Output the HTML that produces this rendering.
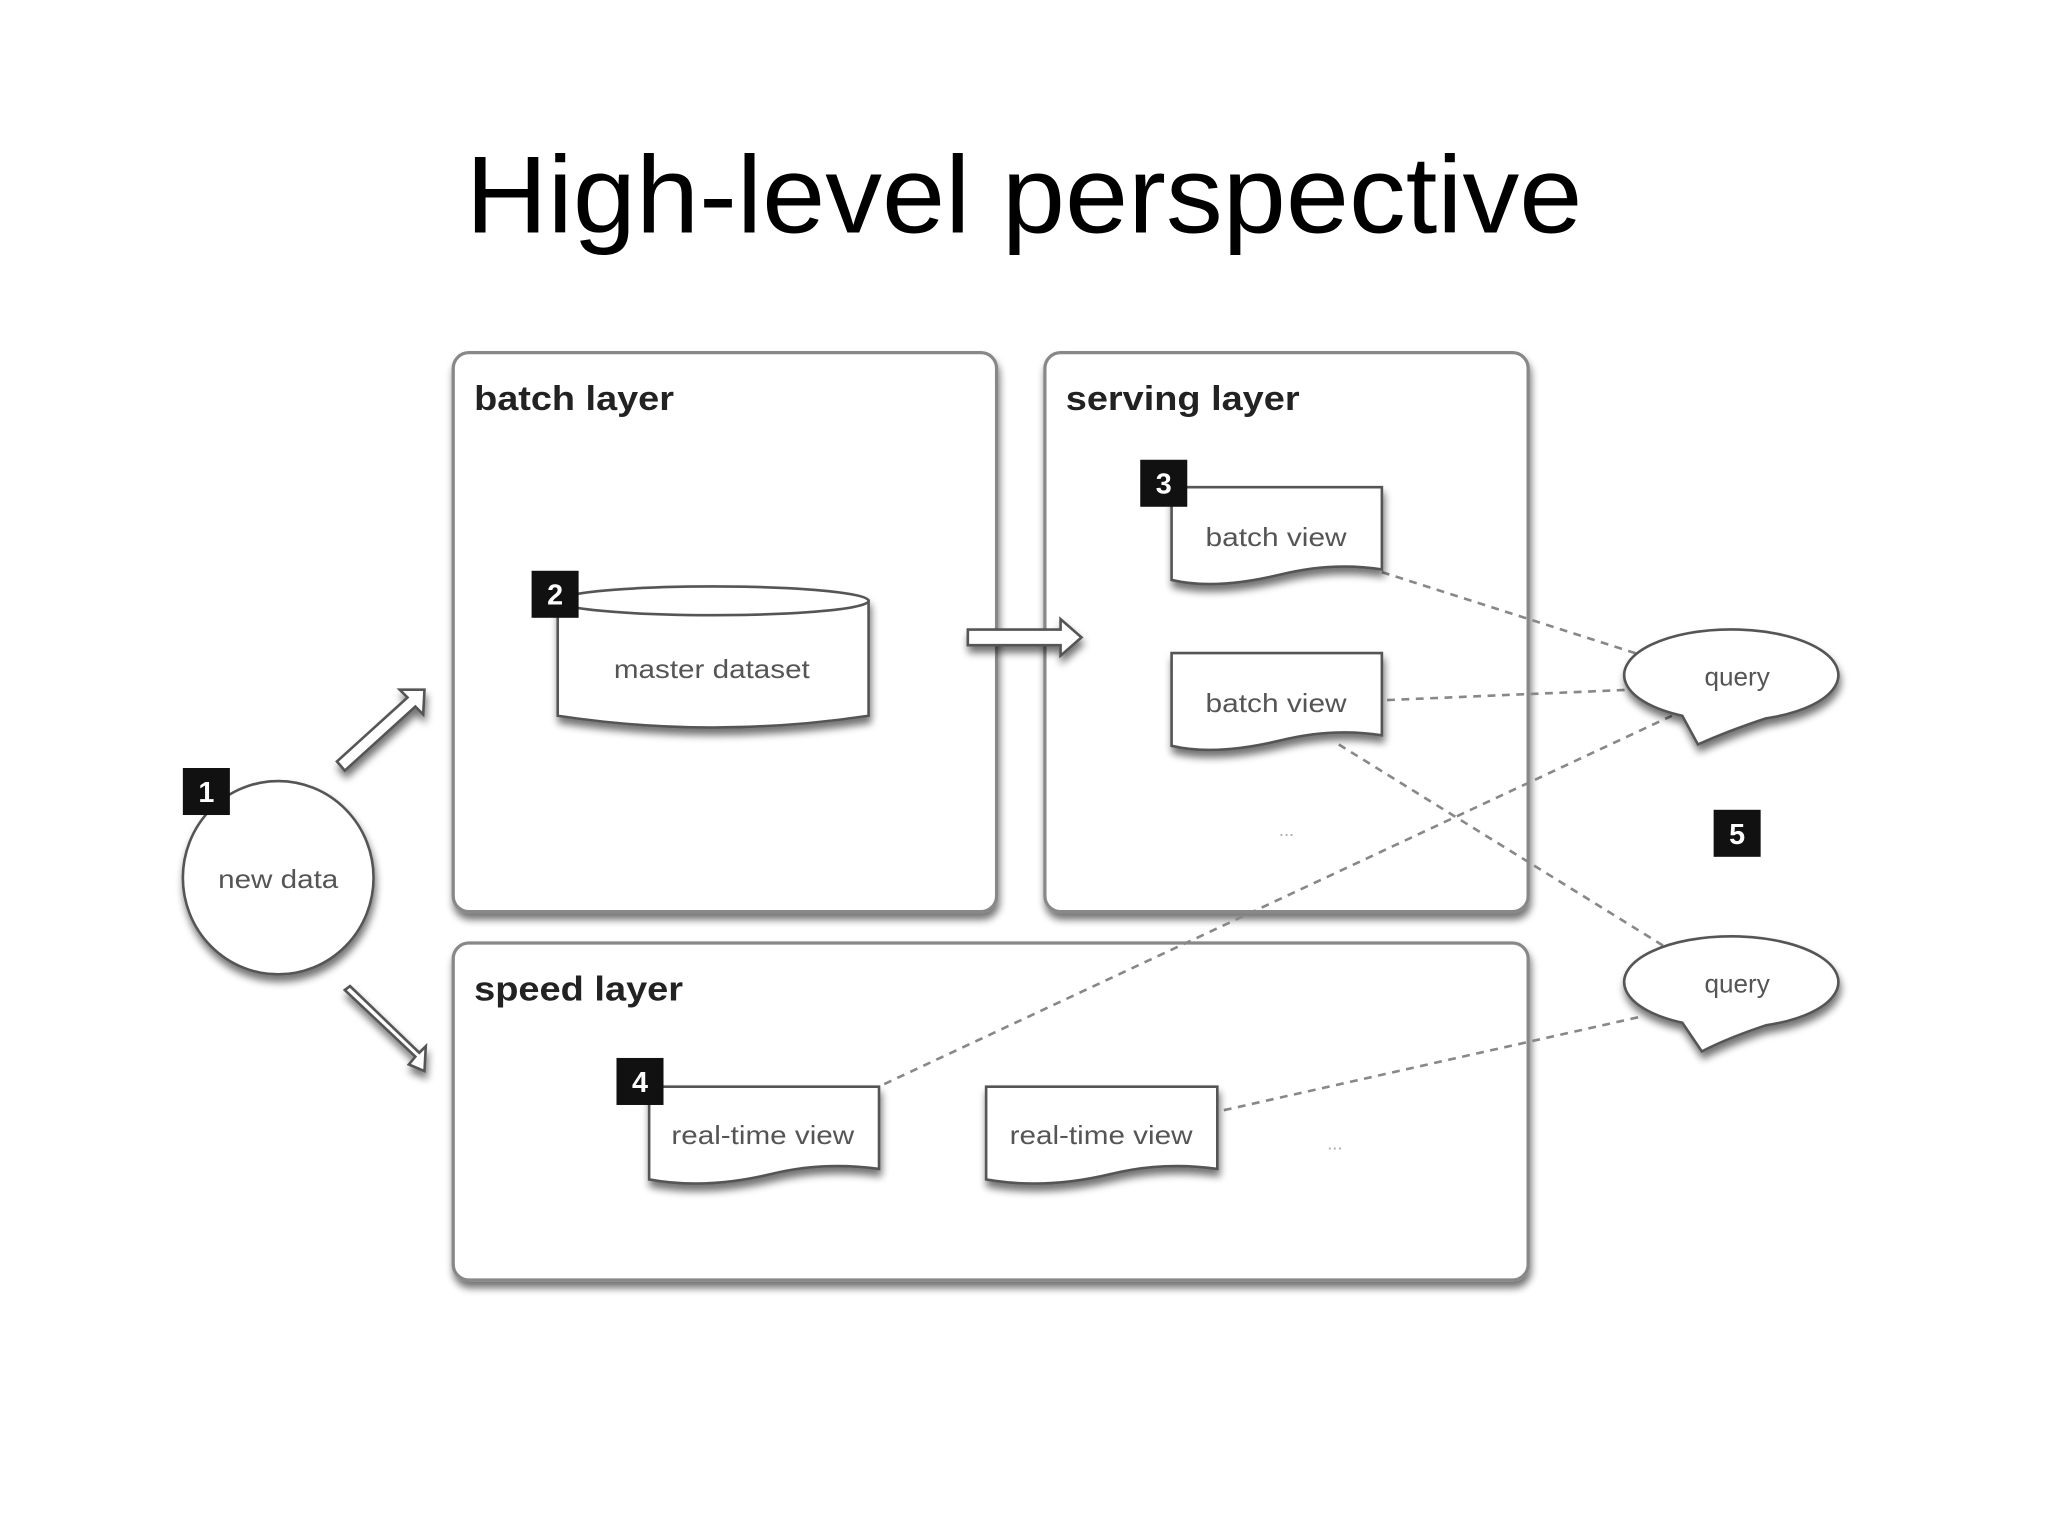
<!DOCTYPE html>
<html><head><meta charset="utf-8"><style>html,body{margin:0;padding:0;background:#fff;width:2048px;height:1536px;overflow:hidden}</style></head>
<body>
<svg width="2048" height="1536" viewBox="0 0 1568 1176" xmlns="http://www.w3.org/2000/svg" font-family="Liberation Sans, sans-serif">
<defs>
<filter id="sh" x="-10%" y="-10%" width="120%" height="130%"><feGaussianBlur in="SourceAlpha" stdDeviation="3"/><feOffset dx="1" dy="5"/><feComponentTransfer><feFuncA type="linear" slope="0.55"/></feComponentTransfer><feMerge><feMergeNode/><feMergeNode in="SourceGraphic"/></feMerge></filter>
</defs>
<rect width="1568" height="1176" fill="#fff"/>
<text x="784" y="178" font-size="84" text-anchor="middle" fill="#000" textLength="855" lengthAdjust="spacingAndGlyphs">High-level perspective</text>

<g fill="#fff" stroke="#888" stroke-width="2.5" filter="url(#sh)">
<rect x="347" y="270" width="416" height="428" rx="12"/>
<rect x="800" y="270" width="370" height="428" rx="12"/>
<rect x="347" y="722" width="823" height="258" rx="12"/>
</g>
<g font-size="26" font-weight="bold" fill="#222">
<text x="363" y="314" textLength="153" lengthAdjust="spacingAndGlyphs">batch layer</text>
<text x="816" y="314" textLength="179" lengthAdjust="spacingAndGlyphs">serving layer</text>
<text x="363" y="766" textLength="160" lengthAdjust="spacingAndGlyphs">speed layer</text>
</g>

<g stroke="#888" stroke-width="2" stroke-dasharray="6,5" fill="none">
<line x1="1058" y1="438" x2="1258" y2="502"/>
<line x1="1062" y1="536" x2="1250" y2="528"/>
<line x1="1025" y1="570" x2="1275" y2="725"/>
<line x1="677" y1="830" x2="1280" y2="548"/>
<line x1="937" y1="850" x2="1258" y2="778"/>
</g>

<g fill="#fff" stroke="#555" stroke-width="2" filter="url(#sh)">
<path d="M427 460 L427 548 Q546 566 665 548 L665 460 Z"/>
<ellipse cx="546" cy="460" rx="119" ry="11"/>
<ellipse cx="213" cy="672" rx="73" ry="74"/>
<path d="M897 373 H1058 V436 Q1020 430 980 440 Q930 452 897 444 Z"/>
<path d="M897 500 H1058 V563 Q1020 557 980 567 Q930 579 897 571 Z"/>
<path d="M497 832 H673 V895 Q630 889 590 899 Q540 911 497 903 Z"/>
<path d="M755 832 H932 V895 Q890 889 850 899 Q800 911 755 903 Z"/>
<path d="M1288 548 A82 35 0 1 1 1352 550 Q1322 560 1300 570 Z"/>
<path d="M1288 783 A82 35 0 1 1 1352 785 Q1322 795 1303 805 Z"/>
<path d="M258 583 L312 534 L306 528 L325 528 L324 547 L318 541 L264 590 Z"/>
<path d="M264 758 L318 809 L313 815 L325 820 L326 801 L321 806 L268 755 Z"/>
<path d="M741 482 H812 V474 L828 488 L812 502 V494 H741 Z"/>
</g>

<g font-size="20" fill="#555" text-anchor="middle">
<text x="545" y="519" textLength="150" lengthAdjust="spacingAndGlyphs">master dataset</text>
<text x="213" y="680" textLength="92" lengthAdjust="spacingAndGlyphs">new data</text>
<text x="977" y="418" textLength="108" lengthAdjust="spacingAndGlyphs">batch view</text>
<text x="977" y="545" textLength="108" lengthAdjust="spacingAndGlyphs">batch view</text>
<text x="584" y="876" textLength="140" lengthAdjust="spacingAndGlyphs">real-time view</text>
<text x="843" y="876" textLength="140" lengthAdjust="spacingAndGlyphs">real-time view</text>
<text x="1330" y="525">query</text>
<text x="1330" y="760">query</text>
<text x="985" y="640" fill="#aaa" font-size="14">...</text>
<text x="1022" y="880" fill="#aaa" font-size="14">...</text>
</g>

<g fill="#111">
<rect x="140" y="588" width="36" height="36"/>
<rect x="407" y="437" width="36" height="36"/>
<rect x="873" y="352" width="36" height="36"/>
<rect x="472" y="810" width="36" height="36"/>
<rect x="1312" y="620" width="36" height="36"/>
</g>
<g fill="#fff" font-size="22" font-weight="bold" text-anchor="middle">
<text x="158" y="614">1</text>
<text x="425" y="463">2</text>
<text x="891" y="378">3</text>
<text x="490" y="836">4</text>
<text x="1330" y="646">5</text>
</g>
</svg>
</body></html>
